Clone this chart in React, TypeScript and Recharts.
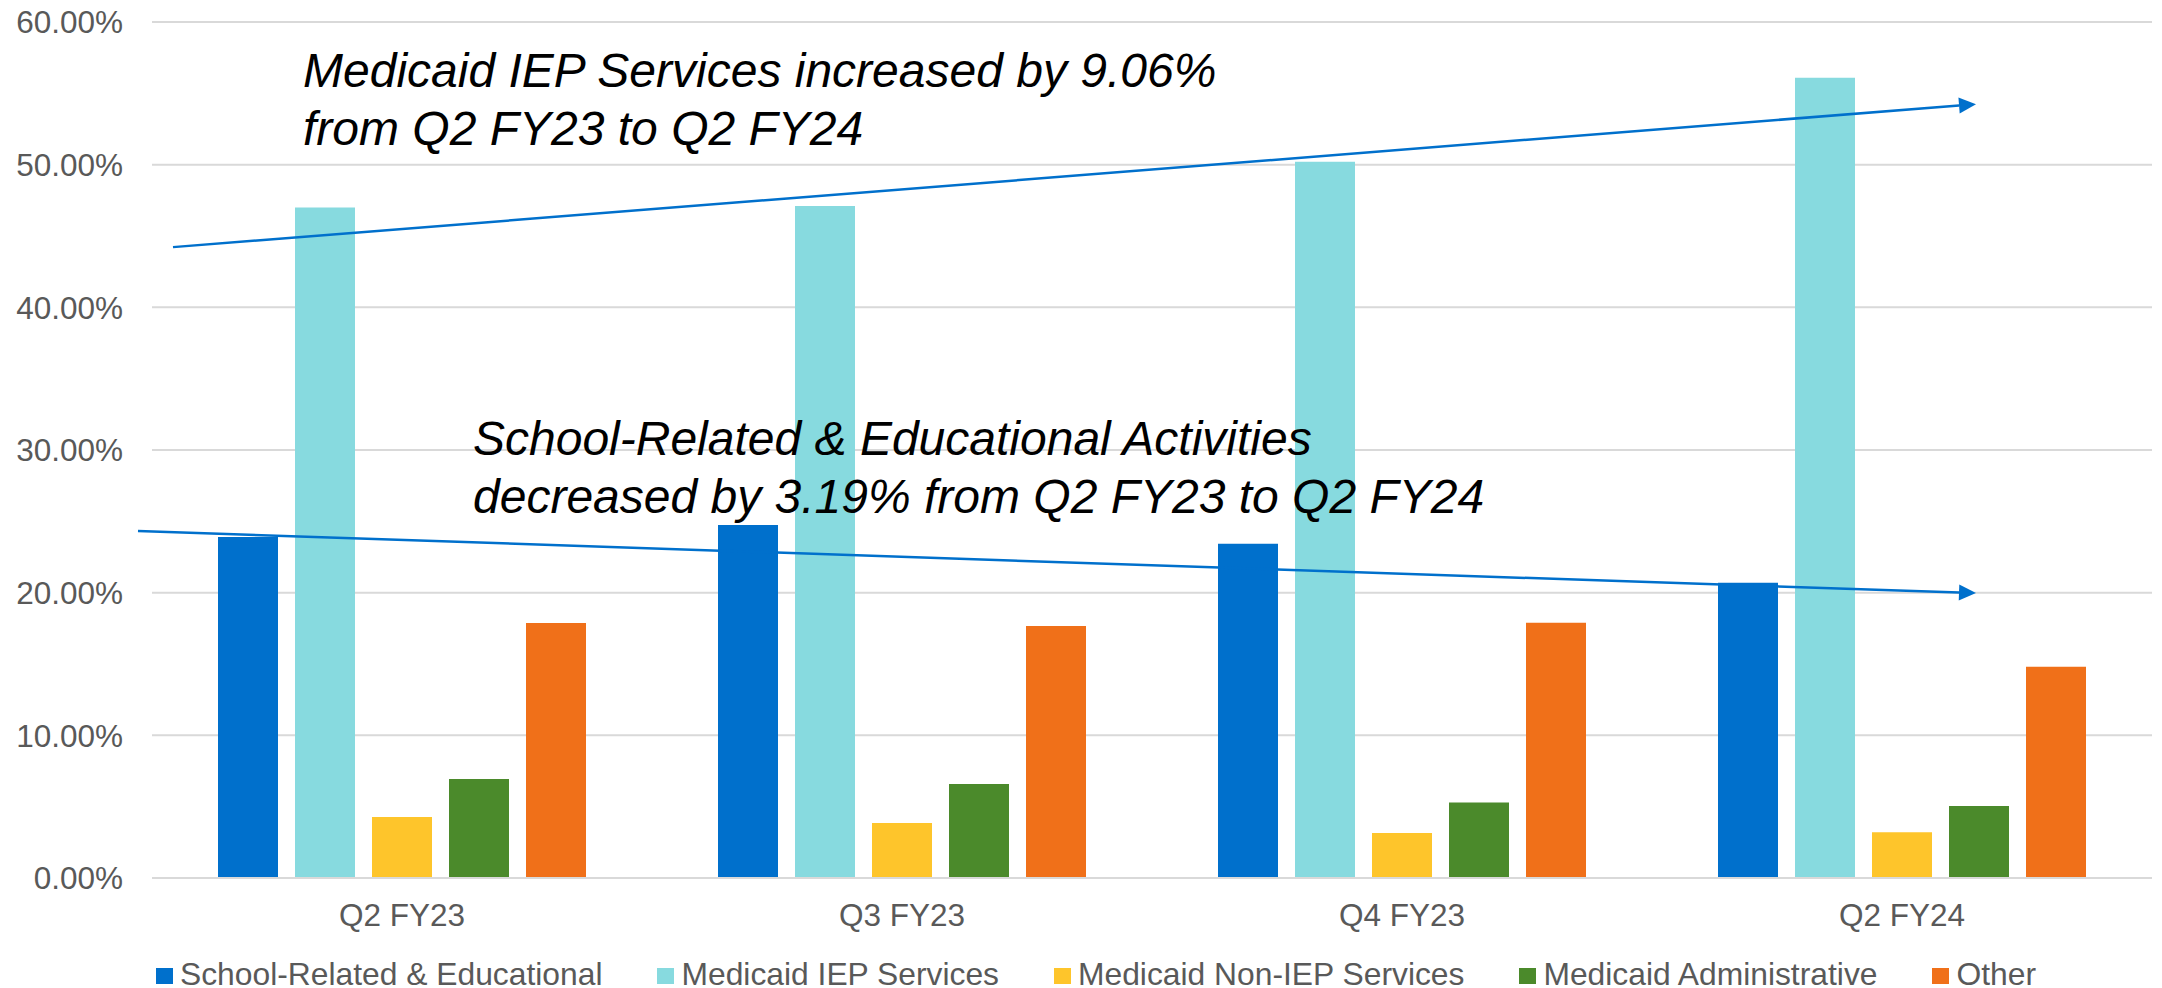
import { Bar, BarChart, CartesianGrid, Legend, ReferenceDot, ReferenceLine, XAxis, YAxis } from "recharts";

// values, in percent
const quarters = ["Q2 FY23", "Q3 FY23", "Q4 FY23", "Q2 FY24"];
const schoolRelated = [23.9, 24.74, 23.42, 20.7];
const iepServices = [47.0, 47.1, 50.2, 56.1];
const nonIepServices = [4.27, 3.85, 3.15, 3.2];
const administrative = [6.94, 6.59, 5.3, 5.05];
const other = [17.87, 17.66, 17.9, 14.8];
const yTicks = [0, 10, 20, 30, 40, 50, 60];

const seriesNames = [
    "School-Related & Educational",
    "Medicaid IEP Services",
    "Medicaid Non-IEP Services",
    "Medicaid Administrative",
    "Other",
];
const seriesColors = ["#0070CC", "#87DADF", "#FEC52B", "#4B8A2B", "#F07019"];
const seriesValues = [schoolRelated, iepServices, nonIepServices, administrative, other];

// trend arrows, x in category bands (0..4 across the plot), y in percent
const iepArrow = [{ x: 0.042, y: 44.22 }, { x: 3.648, y: 54.24 }];
const schoolArrow = [{ x: -0.028, y: 24.32 }, { x: 3.648, y: 19.97 }];

const iepNote = ["Medicaid IEP Services increased by 9.06%", "from Q2 FY23 to Q2 FY24"];
const schoolNote = ["School-Related & Educational Activities", "decreased by 3.19% from Q2 FY23 to Q2 FY24"];
const iepNoteAt = { x: 0.302, y: 55.43 };
const schoolNoteAt = { x: 0.642, y: 29.64 };

const FONT = "'Liberation Sans', Arial, sans-serif";
const ARROW = "#0070CC";

// the hidden number axis runs 0..3 over the plot, so bands are scaled to it
const toAxis = (u: number) => (u * 3) / quarters.length;
const seg = (pts: { x: number; y: number }[]) => pts.map((p) => ({ x: toAxis(p.x), y: p.y }));

const data = quarters.map((q, i) => {
    const row: Record<string, string | number> = { quarter: q };
    seriesNames.forEach((name, s) => {
        row[name] = seriesValues[s][i];
    });
    return row;
});

const Arrow = (props: any) => {
    const { x1, y1, x2, y2 } = props;
    const a = Math.atan2(y2 - y1, x2 - x1);
    const len = 17;
    const half = 8;
    const bx = x2 - len * Math.cos(a);
    const by = y2 - len * Math.sin(a);
    const px = -Math.sin(a) * half;
    const py = Math.cos(a) * half;
    return (
        <g>
            <line x1={x1} y1={y1} x2={bx} y2={by} stroke={ARROW} strokeWidth={2.5} />
            <polygon points={`${x2},${y2} ${bx + px},${by + py} ${bx - px},${by - py}`} fill={ARROW} />
        </g>
    );
};

const note = (lines: string[]) => (props: any) => (
    <text x={props.cx} y={props.cy} fontFamily={FONT} fontSize={48} fontStyle="italic" fill="#000">
        {lines.map((l, i) => (
            <tspan key={i} x={props.cx} dy={i === 0 ? 0 : 58}>{l}</tspan>
        ))}
    </text>
);

const LegendContent = () => (
    <div style={{
        height: 55,
        boxSizing: "border-box",
        paddingTop: 27,
        paddingLeft: 30,
        display: "flex",
        justifyContent: "center",
        gap: 55,
        fontFamily: FONT,
        fontSize: 31.8,
        lineHeight: "31px",
        color: "#595959",
        whiteSpace: "nowrap",
    }}>
        {seriesNames.map((name, i) => (
            <span key={name} style={{ display: "flex", alignItems: "center" }}>
                <span style={{ width: 17, height: 16, background: seriesColors[i], marginRight: 7, marginTop: 4 }} />
                {name}
            </span>
        ))}
    </div>
);

const App = () => {
    return (
        <div style={{ position: "absolute", left: 0, top: 0, width: 2162, height: 988, background: "#fff" }}>
            <BarChart
                width={2162}
                height={988}
                data={data}
                margin={{ top: 22, right: 10, bottom: 0, left: 0 }}
                barSize={60}
                barGap={17}
            >
                <CartesianGrid vertical={false} stroke="#D9D9D9" strokeWidth={2} />
                <XAxis
                    dataKey="quarter"
                    height={55}
                    tickLine={false}
                    tickSize={0}
                    tickMargin={26}
                    axisLine={{ stroke: "#D9D9D9", strokeWidth: 2 }}
                    tick={{ fill: "#595959", fontSize: 31.5, fontFamily: FONT }}
                />
                <XAxis xAxisId="pos" type="number" domain={[0, 3]} hide allowDataOverflow />
                <YAxis
                    domain={[0, 60]}
                    ticks={yTicks}
                    width={152}
                    tickSize={0}
                    tickMargin={29}
                    axisLine={false}
                    tickLine={false}
                    tickFormatter={(v) => `${Number(v).toFixed(2)}%`}
                    tick={{ fill: "#595959", fontSize: 31.5, fontFamily: FONT }}
                />
                <Legend verticalAlign="bottom" content={LegendContent} wrapperStyle={{ left: 0, width: 2162, bottom: 0 }} />
                {seriesNames.map((name, i) => (
                    <Bar key={name} dataKey={name} fill={seriesColors[i]} isAnimationActive={false} />
                ))}
                <ReferenceLine xAxisId="pos" segment={seg(iepArrow)} ifOverflow="visible" shape={Arrow} />
                <ReferenceLine xAxisId="pos" segment={seg(schoolArrow)} ifOverflow="visible" shape={Arrow} />
                <ReferenceDot xAxisId="pos" x={toAxis(iepNoteAt.x)} y={iepNoteAt.y} r={0} ifOverflow="visible" shape={note(iepNote)} />
                <ReferenceDot xAxisId="pos" x={toAxis(schoolNoteAt.x)} y={schoolNoteAt.y} r={0} ifOverflow="visible" shape={note(schoolNote)} />
            </BarChart>
        </div>
    );
};

export default App;
